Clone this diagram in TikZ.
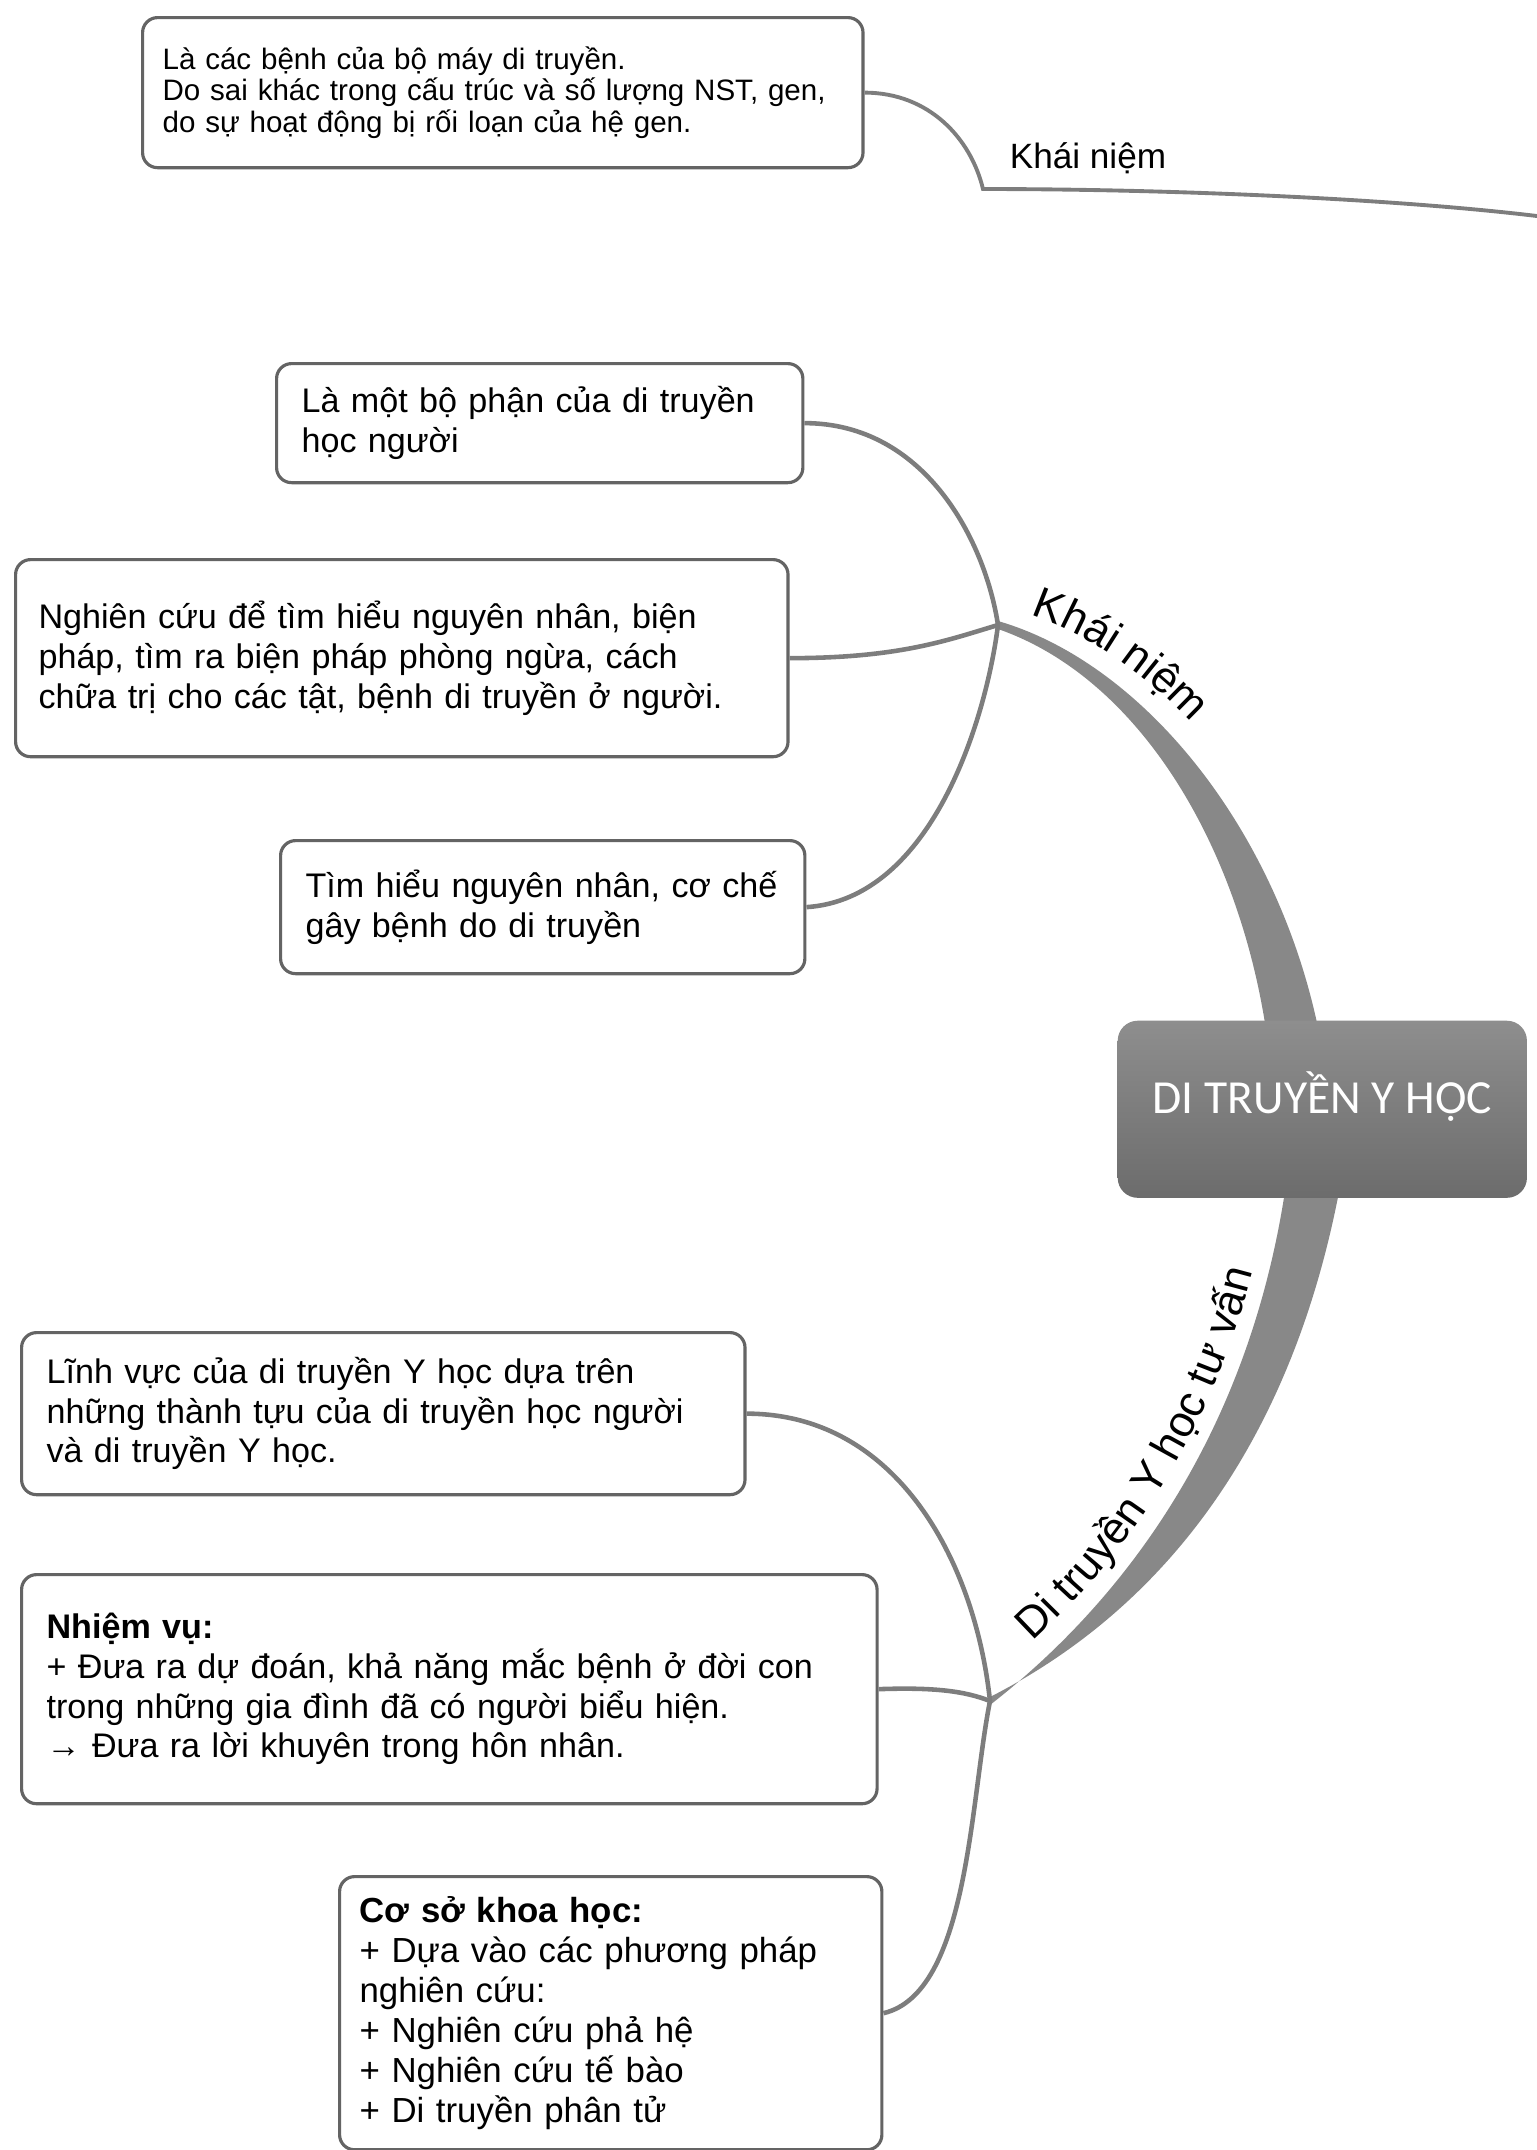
\documentclass[tikz,border=0pt]{standalone}
\usepackage{fontspec}
\setmainfont{Liberation Sans}
\newfontfamily\corefont{Carlito}
\usepackage{tikz}
\usetikzlibrary{positioning, calc, backgrounds, decorations.text}

\definecolor{boxline}{RGB}{100,100,100}
\definecolor{twiggray}{RGB}{125,125,125}
\definecolor{limbgray}{RGB}{136,136,136}
\definecolor{coretop}{RGB}{142,142,142}
\definecolor{corebot}{RGB}{108,108,108}
\newcommand{\limbfont}{\fontsize{12.5}{14}\selectfont}

\begin{document}
\begin{tikzpicture}[x=0.01cm, y=-0.01cm,
    note/.style={draw=boxline, line width=0.9pt, rounded corners=0.15cm, fill=white,
        anchor=north west, align=left, inner ysep=0pt, inner xsep=0.25cm,
        font=\fontsize{9.7}{11.3}\selectfont},
    twig/.style={draw=twiggray, line width=1.3pt},
]
    \useasboundingbox (0,0) rectangle (1537,2150);

    % o no central
    \node[rounded corners=0.2cm, top color=coretop, bottom color=corebot,
        minimum width=4.09cm, minimum height=1.77cm, anchor=north west, text=white,
        font=\corefont\fontsize{13.5}{15}\selectfont] (core) at (1117,1020) {\raisebox{-0.04cm}[0pt][0pt]{DI TRUYỀN Y HỌC}};

    % caixas
    \node[note, text width=6.8cm, minimum height=1.5cm, inner xsep=0.2cm,
        font=\fontsize{8.4}{9}\selectfont] (disease) at (141,16)
        {Là các bệnh của bộ máy di truyền.\\ Do sai khác trong cấu trúc và số lượng NST, gen,\\ do sự hoạt động bị rối loạn của hệ gen.};
    \node[note, text width=4.76cm, minimum height=1.19cm] (part) at (275,362)
        {Là một bộ phận của di truyền\\ học người};
    \node[note, text width=7.26cm, minimum height=1.97cm, inner xsep=0.23cm] (study) at (14,558)
        {Nghiên cứu để tìm hiểu nguyên nhân, biện\\ pháp, tìm ra biện pháp phòng ngừa, cách\\ chữa trị cho các tật, bệnh di truyền ở người.};
    \node[note, text width=4.74cm, minimum height=1.33cm] (cause) at (279,839)
        {Tìm hiểu nguyên nhân, cơ chế\\ gây bệnh do di truyền};
    \node[note, text width=6.73cm, minimum height=1.62cm] (field) at (20,1331)
        {Lĩnh vực của di truyền Y học dựa trên\\ những thành tựu của di truyền học người\\ và di truyền Y học.};
    \node[note, text width=8.05cm, minimum height=2.29cm] (task) at (20,1573)
        {\textbf{Nhiệm vụ:}\\ + Đưa ra dự đoán, khả năng mắc bệnh ở đời con\\ trong những gia đình đã có người biểu hiện.\\ → Đưa ra lời khuyên trong hôn nhân.};
    \node[note, text width=5.02cm, minimum height=2.73cm, inner xsep=0.2cm,
        font=\fontsize{9.9}{11.4}\selectfont] (basis) at (338,1875)
        {\textbf{Cơ sở khoa học:}\\ + Dựa vào các phương pháp\\ nghiên cứu:\\ + Nghiên cứu phả hệ\\ + Nghiên cứu tế bào\\ + Di truyền phân tử};

    % ramo de cima
    \coordinate (kbend) at (983,189);
    \coordinate (kend) at (1537,216);
    \node[font=\fontsize{10}{12}\selectfont] (ktop) at (1088,158) {Khái niệm};
    \draw[twig, line width=1.1pt] (disease.east) .. controls +(65,0) and +(-12,-50) .. (kbend)
        .. controls +(180,0) and +(-150,-18) .. (kend);

    % juncoes
    \coordinate (jkn) at (998,625);
    \coordinate (jtv) at (990,1701);

    \begin{scope}[on background layer]
        \fill[limbgray] (998,621) .. controls (1150,665) and (1290,845) .. (1324,1060)
            -- (1270,1060) .. controls (1248,860) and (1145,680) .. (998,629) -- cycle;
        \fill[limbgray] (990,1697) .. controls (1180,1600) and (1300,1420) .. (1343,1170)
            -- (1288,1170) .. controls (1258,1400) and (1150,1580) .. (990,1705) -- cycle;
    \end{scope}

    \path[decorate, decoration={text along path, text align={left indent=0.32cm},
        text={|\limbfont|Khái niệm}}] (1000,606) .. controls (1170,645) and (1315,835) .. (1350,1060);
    \path[decorate, decoration={text along path, text align={left indent=0.75cm},
        text={|\limbfont|Di truyền Y học tư vấn}}] (975,1690) .. controls (1135,1568) and (1243,1395) .. (1272,1170);

    % ligacoes
    \draw[twig] (part.east) .. controls +(120,0) and +(-13,-85) .. (jkn);
    \draw[twig] (study.east) .. controls +(110,0) and +(-50,15) .. (jkn);
    \draw[twig] (cause.east) .. controls +(125,-8) and +(-12,95) .. (jkn);

    \draw[twig] (field.east) .. controls +(150,0) and +(-15,-140) .. (jtv);
    \draw[twig] (task.east) .. controls +(55,-2) and +(-25,-10) .. (jtv);
    \draw[twig] (basis.east) .. controls +(85,-20) and +(-20,100) .. (jtv);

\end{tikzpicture}
\end{document}
